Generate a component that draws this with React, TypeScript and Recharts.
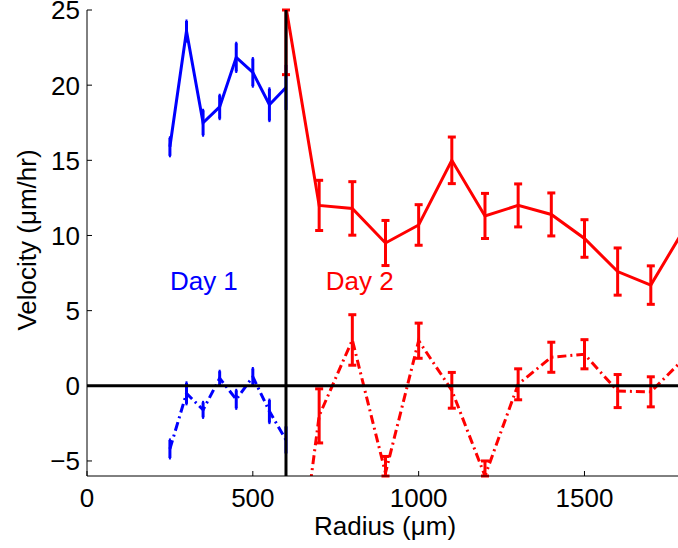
import React from 'react';
import { LineChart, Line, XAxis, YAxis, ErrorBar, ReferenceDot, Label } from 'recharts';

// Day 1 (blue)
const day1X = [250, 300, 350, 400, 450, 500, 550, 600];
const day1Solid = [15.9, 23.6, 17.5, 18.55, 21.85, 20.85, 18.7, 19.85];
const day1SolidErr = [0.6, 0.67, 0.83, 0.78, 0.94, 0.92, 1.06, 1.5];
const day1Dashed = [-4.2, -0.5, -1.6, 0.5, -0.9, 0.6, -1.7, -3.6];
const day1DashedErr = [0.6, 0.7, 0.5, 0.47, 0.6, 0.55, 0.75, 0.9];

// Day 2 (red)
const day2X = [600, 700, 800, 900, 1000, 1100, 1200, 1300, 1400, 1500, 1600, 1700, 1800];
const day2Solid = [25.2, 12.0, 11.8, 9.5, 10.7, 15.0, 11.3, 12.0, 11.4, 9.8, 7.6, 6.7, 10.4];
const day2SolidErr = [4.5, 1.67, 1.78, 1.5, 1.35, 1.55, 1.5, 1.43, 1.43, 1.25, 1.57, 1.28, 1.4];
const day2Dashed = [-19, -2.0, 3.05, -5.8, 3.0, -0.3, -6.0, 0.1, 1.9, 2.1, -0.35, -0.4, 1.8];
const day2DashedErr = [3, 1.8, 1.68, 1.1, 1.17, 1.19, 1.0, 1.03, 1.0, 0.97, 1.1, 1.0, 1.0];

// Reference lines
const zeroLineX = [0, 1800];
const zeroLineY = [0, 0];
const dayBoundaryX = [600, 600];
const dayBoundaryY = [-6, 25];

const xTicks = [0, 500, 1000, 1500];
const yTicks = [-5, 0, 5, 10, 15, 20, 25];
const xDomain = [0, 1782];
const yDomain = [-6, 25];

const labels = [
  { x: 250, y: 7, text: 'Day 1', color: '#0000ff' },
  { x: 720, y: 7, text: 'Day 2', color: '#ff0000' },
];

// error bars are trimmed to the visible y range (the plot clips them in the original)
const build = (xs: number[], ys: number[], es?: number[]) =>
  xs.map((x, i) => {
    const y = ys[i];
    const e = es ? es[i] : 0;
    const low = Math.max(0, Math.min(e, y - yDomain[0]));
    const high = Math.min(e, yDomain[1] - y);
    return { x, y, e: [low, high] };
  });

const d1s = build(day1X, day1Solid, day1SolidErr);
const d1d = build(day1X, day1Dashed, day1DashedErr);
const d2s = build(day2X, day2Solid, day2SolidErr);
const d2d = build(day2X, day2Dashed, day2DashedErr);
const zl = build(zeroLineX, zeroLineY);
const vl = build(dayBoundaryX, dayBoundaryY);

const FONT = '"Liberation Sans", Arial, Helvetica, sans-serif';
const FS = 26;
const DASH = '9 4 2 4';

const XTick = (props: any) => {
  const { x, y, payload } = props;
  return (
    <g>
      <line x1={x} x2={x} y1={y} y2={y - 5} stroke="#000" strokeWidth={1} />
      <text x={x} y={y + 31} textAnchor="middle" fontSize={FS} fontFamily={FONT} fill="#000">
        {payload.value}
      </text>
    </g>
  );
};

const YTick = (props: any) => {
  const { x, y, payload } = props;
  const v = payload.value < 0 ? '\u2212' + Math.abs(payload.value) : String(payload.value);
  return (
    <g>
      <line x1={x} x2={x + 5} y1={y} y2={y} stroke="#000" strokeWidth={1} />
      <text x={x - 7} y={y} dy="0.36em" textAnchor="end" fontSize={FS} fontFamily={FONT} fill="#000">
        {v}
      </text>
    </g>
  );
};

const makeLabel = (text: string, color: string) => (p: any) => (
  <text x={p.cx} y={p.cy} dy="0.36em" textAnchor="start" fontSize={FS} fontFamily={FONT} fill={color}>
    {text}
  </text>
);

export default function App() {
  return (
    <div style={{ position: 'fixed', left: 0, top: 0, width: 678, height: 548, background: '#fff' }}>
      <LineChart
        width={678}
        height={548}
        margin={{ top: 10, right: 0, bottom: 32, left: 27 }}
        style={{ fontFamily: FONT }}
      >
        <XAxis
          type="number"
          dataKey="x"
          domain={xDomain}
          ticks={xTicks}
          allowDataOverflow
          height={40}
          tickSize={0}
          tickMargin={0}
          tickLine={false}
          tick={<XTick />}
          axisLine={{ stroke: '#000', strokeWidth: 1 }}
        >
          <Label
            content={() => (
              <text x={385} y={535} textAnchor="middle" fontSize={FS} fontFamily={FONT} fill="#000">
                Radius (μm)
              </text>
            )}
          />
        </XAxis>
        <YAxis
          type="number"
          dataKey="y"
          domain={yDomain}
          ticks={yTicks}
          allowDataOverflow
          width={60}
          tickSize={0}
          tickMargin={0}
          tickLine={false}
          tick={<YTick />}
          axisLine={{ stroke: '#000', strokeWidth: 1 }}
        >
          <Label
            content={() => (
              <text
                x={36}
                y={240}
                transform="rotate(-90 36 240)"
                textAnchor="middle"
                fontSize={FS}
                fontFamily={FONT}
                fill="#000"
              >
                Velocity (μm/hr)
              </text>
            )}
          />
        </YAxis>

        <Line data={d1s} dataKey="y" stroke="#0000ff" strokeWidth={3} dot={false} isAnimationActive={false}>
          <ErrorBar dataKey="e" direction="y" width={1} stroke="#0000ff" strokeWidth={3} />
        </Line>
        <Line
          data={d1d}
          dataKey="y"
          stroke="#0000ff"
          strokeWidth={3}
          strokeDasharray={DASH}
          dot={false}
          isAnimationActive={false}
        >
          <ErrorBar dataKey="e" direction="y" width={1} stroke="#0000ff" strokeWidth={3} />
        </Line>
        <Line data={d2s} dataKey="y" stroke="#ff0000" strokeWidth={3} dot={false} isAnimationActive={false}>
          <ErrorBar dataKey="e" direction="y" width={4} stroke="#ff0000" strokeWidth={3} />
        </Line>
        <Line
          data={d2d}
          dataKey="y"
          stroke="#ff0000"
          strokeWidth={3}
          strokeDasharray={DASH}
          dot={false}
          isAnimationActive={false}
        >
          <ErrorBar dataKey="e" direction="y" width={4} stroke="#ff0000" strokeWidth={3} />
        </Line>
        <Line data={zl} dataKey="y" stroke="#000" strokeWidth={3} dot={false} isAnimationActive={false} />
        <Line data={vl} dataKey="y" stroke="#000" strokeWidth={3} dot={false} isAnimationActive={false} />

        {labels.map((l) => (
          <ReferenceDot key={l.text} x={l.x} y={l.y} r={0} shape={makeLabel(l.text, l.color)} />
        ))}
      </LineChart>
    </div>
  );
}
